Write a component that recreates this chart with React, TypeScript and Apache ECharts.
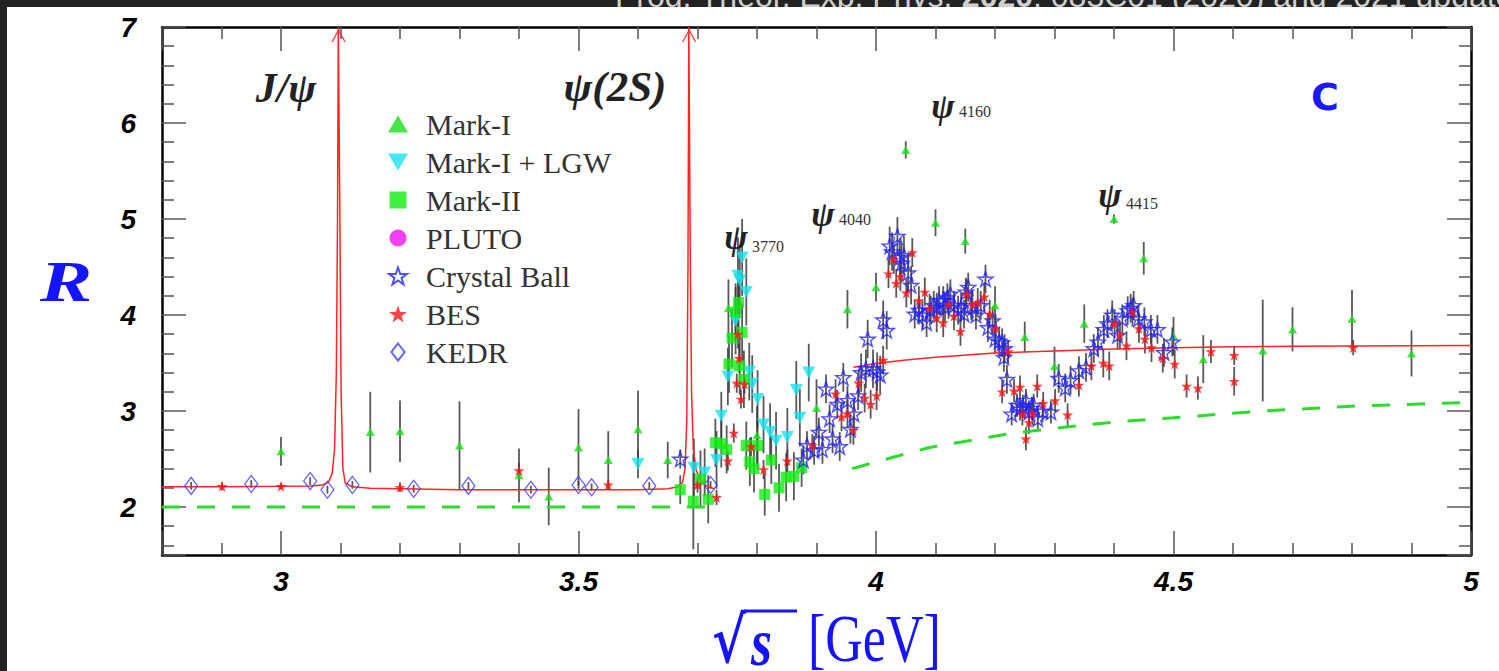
import { useEffect, useRef } from "react";
import * as echarts from "echarts";

// [sqrt(s) GeV, R, error]
const markI: number[][] = [
  [3.0, 2.58, 0.15], [3.15, 2.78, 0.42], [3.2, 2.79, 0.32], [3.3, 2.64, 0.46], [3.4, 2.33, 0.28],
  [3.45, 2.11, 0.3], [3.5, 2.62, 0.4], [3.55, 2.49, 0.3], [3.6, 2.81, 0.4], [3.65, 2.49, 0.19],
  [3.752, 4.07, 0.3], [3.8, 2.75, 0.3], [3.9, 3.03, 0.3], [3.952, 4.06, 0.2], [4.0, 4.29, 0.15],
  [4.05, 5.72, 0.09], [4.1, 4.96, 0.14], [4.15, 4.77, 0.13], [4.2, 4.1, 0.2], [4.25, 3.77, 0.16],
  [4.3, 3.47, 0.2], [4.35, 3.91, 0.2], [4.4, 5.0, 0.05], [4.45, 4.59, 0.17], [4.5, 3.78, 0.2],
  [4.55, 3.54, 0.25], [4.65, 3.63, 0.53], [4.7, 3.85, 0.23], [4.8, 3.96, 0.3], [4.9, 3.6, 0.24],
];
const markILGW: number[][] = [
  [3.6, 2.45, 0.15], [3.694, 2.41, 0.3], [3.712, 2.36, 0.25], [3.732, 2.49, 0.3], [3.74, 2.95, 0.25],
  [3.751, 3.36, 0.3], [3.764, 3.94, 0.35], [3.768, 4.41, 0.4], [3.771, 4.36, 0.35], [3.775, 4.6, 0.4],
  [3.782, 4.24, 0.35], [3.787, 3.41, 0.3], [3.792, 3.28, 0.3], [3.801, 3.125, 0.3], [3.811, 2.86, 0.3],
  [3.822, 2.78, 0.3], [3.832, 2.69, 0.3], [3.851, 2.73, 0.3], [3.866, 3.22, 0.3], [3.872, 2.93, 0.3],
  [3.887, 3.4, 0.3],
];
const markII: number[][] = [
  [3.671, 2.18, 0.15], [3.693, 2.06, 0.5], [3.705, 2.29, 0.3], [3.718, 2.08, 0.25], [3.73, 2.67, 0.25],
  [3.74, 2.66, 0.25], [3.749, 2.6, 0.25], [3.753, 3.49, 0.3], [3.758, 3.76, 0.3], [3.764, 4.03, 0.3],
  [3.769, 4.13, 0.3], [3.771, 3.47, 0.3], [3.775, 3.82, 0.3], [3.778, 3.33, 0.3], [3.782, 2.64, 0.25],
  [3.788, 2.47, 0.25], [3.795, 2.4, 0.25], [3.801, 2.64, 0.25], [3.813, 2.13, 0.22], [3.824, 2.49, 0.25],
  [3.837, 2.2, 0.25], [3.849, 2.31, 0.25], [3.862, 2.32, 0.25], [3.875, 2.41, 0.2],
];
const pluto: number[][] = [];
const crystalBall: number[][] = [
  [3.671, 2.5, 0.1], [3.878, 2.49, 0.15], [3.884, 2.64, 0.15], [3.896, 2.59, 0.15], [3.904, 2.78, 0.15],
  [3.91, 2.6, 0.15], [3.916, 3.23, 0.15], [3.922, 2.92, 0.15], [3.927, 2.71, 0.15], [3.935, 3.07, 0.15],
  [3.939, 2.63, 0.15], [3.945, 3.35, 0.15], [3.952, 3.11, 0.15], [3.957, 2.81, 0.15], [3.963, 2.97, 0.15],
  [3.97, 3.16, 0.15], [3.975, 3.4, 0.2], [3.983, 3.44, 0.2], [3.986, 3.75, 0.2], [3.995, 3.44, 0.2],
  [4.002, 3.41, 0.2], [4.007, 3.375, 0.2], [4.012, 3.95, 0.2], [4.018, 3.84, 0.2], [4.023, 4.72, 0.2],
  [4.027, 4.66, 0.2], [4.036, 4.82, 0.2], [4.04, 4.6, 0.2], [4.043, 4.54, 0.2], [4.047, 4.62, 0.2],
  [4.054, 4.44, 0.2], [4.059, 4.31, 0.2], [4.065, 4.01, 0.15], [4.072, 4.05, 0.15], [4.078, 4.0, 0.15],
  [4.085, 3.92, 0.15], [4.092, 4.05, 0.15], [4.097, 4.1, 0.15], [4.102, 4.08, 0.15], [4.106, 4.15, 0.15],
  [4.113, 4.15, 0.15], [4.116, 4.08, 0.15], [4.12, 4.18, 0.15], [4.125, 4.22, 0.15], [4.131, 4.1, 0.15],
  [4.138, 4.05, 0.15], [4.143, 4.08, 0.15], [4.148, 4.01, 0.15], [4.151, 4.24, 0.15], [4.155, 4.29, 0.15],
  [4.16, 4.1, 0.15], [4.168, 4.0, 0.15], [4.176, 4.1, 0.15], [4.184, 4.375, 0.15], [4.188, 3.87, 0.15],
  [4.196, 3.94, 0.15], [4.2, 3.75, 0.15], [4.207, 3.73, 0.15], [4.212, 3.71, 0.15], [4.215, 3.56, 0.15],
  [4.216, 3.65, 0.15], [4.22, 3.33, 0.15], [4.228, 2.97, 0.12], [4.237, 3.06, 0.12], [4.242, 3.02, 0.12],
  [4.247, 3.05, 0.12], [4.252, 3.11, 0.12], [4.257, 2.99, 0.12], [4.262, 3.03, 0.12], [4.265, 3.06, 0.12],
  [4.272, 2.92, 0.12], [4.28, 3.0, 0.12], [4.294, 2.99, 0.12], [4.307, 3.34, 0.15], [4.318, 3.24, 0.15],
  [4.327, 3.32, 0.15], [4.341, 3.42, 0.15], [4.353, 3.455, 0.15], [4.366, 3.65, 0.15], [4.373, 3.72, 0.15],
  [4.383, 3.85, 0.15], [4.389, 3.91, 0.15], [4.397, 4.0, 0.15], [4.406, 3.79, 0.15], [4.414, 3.96, 0.15],
  [4.423, 4.045, 0.15], [4.428, 4.07, 0.15], [4.433, 4.1, 0.15], [4.441, 3.96, 0.15], [4.451, 3.93, 0.15],
  [4.462, 3.85, 0.15], [4.473, 3.85, 0.15], [4.484, 3.61, 0.15], [4.498, 3.72, 0.15],
];
const bes: number[][] = [
  [2.901, 2.215, 0.04], [3.0, 2.215, 0.03], [3.2, 2.205, 0.05], [3.4, 2.38, 0.08], [3.55, 2.23, 0.05],
  [3.7, 2.23, 0.08], [3.732, 2.1, 0.08], [3.751, 2.48, 0.1], [3.761, 2.77, 0.1], [3.766, 3.29, 0.1],
  [3.768, 3.8, 0.15], [3.77, 3.55, 0.15], [3.773, 3.125, 0.1], [3.779, 3.28, 0.1], [3.79, 2.63, 0.1],
  [3.811, 2.39, 0.1], [3.851, 2.48, 0.12], [3.893, 2.64, 0.12], [3.932, 3.18, 0.15], [3.942, 2.94, 0.15],
  [3.952, 2.97, 0.15], [3.962, 2.8, 0.15], [3.971, 3.29, 0.15], [3.981, 3.135, 0.15], [3.991, 3.07, 0.15],
  [4.001, 3.16, 0.15], [4.012, 3.53, 0.15], [4.021, 4.43, 0.15], [4.03, 4.58, 0.15], [4.034, 4.33, 0.15],
  [4.041, 4.4, 0.15], [4.051, 4.23, 0.15], [4.061, 4.65, 0.15], [4.072, 4.15, 0.15], [4.082, 4.24, 0.15],
  [4.09, 4.07, 0.15], [4.102, 3.97, 0.15], [4.113, 3.92, 0.15], [4.122, 4.11, 0.15], [4.131, 3.99, 0.15],
  [4.142, 3.83, 0.15], [4.152, 4.22, 0.15], [4.162, 4.11, 0.15], [4.171, 4.13, 0.15], [4.182, 4.19, 0.15],
  [4.191, 4.01, 0.15], [4.201, 3.86, 0.15], [4.212, 3.2, 0.12], [4.222, 3.62, 0.12], [4.232, 3.21, 0.12],
  [4.242, 3.25, 0.12], [4.246, 2.97, 0.12], [4.252, 2.71, 0.12], [4.257, 2.88, 0.12], [4.263, 2.97, 0.12],
  [4.271, 3.26, 0.12], [4.281, 3.08, 0.12], [4.301, 3.11, 0.12], [4.322, 2.96, 0.12], [4.341, 3.27, 0.12],
  [4.362, 3.47, 0.15], [4.382, 3.5, 0.15], [4.392, 3.47, 0.15], [4.401, 3.91, 0.15], [4.41, 3.79, 0.15],
  [4.421, 3.68, 0.15], [4.431, 4.03, 0.15], [4.442, 3.86, 0.15], [4.452, 3.75, 0.15], [4.463, 3.66, 0.15],
  [4.482, 3.55, 0.15], [4.502, 3.49, 0.15], [4.522, 3.26, 0.12], [4.541, 3.24, 0.12], [4.563, 3.62, 0.12],
  [4.602, 3.31, 0.15], [4.602, 3.58, 0.1], [4.802, 3.66, 0.08],
];
const kedr: number[][] = [
  [2.849, 2.22, 0.04], [2.95, 2.24, 0.04], [3.049, 2.27, 0.04], [3.078, 2.18, 0.04], [3.12, 2.23, 0.04],
  [3.223, 2.19, 0.04], [3.315, 2.22, 0.04], [3.42, 2.18, 0.04], [3.5, 2.23, 0.04], [3.522, 2.205, 0.04],
  [3.619, 2.22, 0.04], [3.722, 2.23, 0.04],
];
// theory curves
const rCurveLow: number[][] = [
  [2.8, 2.21], [2.9, 2.21], [3.0, 2.215], [3.05, 2.22], [3.07, 2.23], [3.08, 2.26], [3.086, 2.35],
  [3.09, 2.6], [3.093, 3.4], [3.095, 5.0], [3.0963, 7.0], [3.0973, 7.0], [3.099, 5.0], [3.101, 3.2],
  [3.104, 2.4], [3.108, 2.25], [3.12, 2.21], [3.15, 2.195], [3.2, 2.19], [3.3, 2.18], [3.4, 2.18],
  [3.5, 2.18], [3.6, 2.18], [3.65, 2.19], [3.668, 2.21], [3.675, 2.26], [3.679, 2.4], [3.682, 2.9],
  [3.684, 4.5], [3.6854, 7.0], [3.6864, 7.0], [3.688, 4.5], [3.69, 3.2], [3.693, 2.6], [3.698, 2.38],
  [3.705, 2.28], [3.715, 2.22], [3.728, 2.19],
];
const rCurveHigh: number[][] = [
  [3.962, 3.455], [3.98, 3.475], [4.0, 3.495], [4.05, 3.53], [4.1, 3.56], [4.2, 3.605], [4.3, 3.625],
  [4.4, 3.645], [4.5, 3.66], [4.6, 3.668], [4.7, 3.674], [4.8, 3.678], [5.0, 3.682],
];
const pqcdLow: number[][] = [[2.8, 2.0], [3.72, 2.0]];
const pqcdHigh: number[][] = [
  [3.96, 2.4], [4.0, 2.47], [4.09, 2.62], [4.22, 2.76], [4.3, 2.82], [4.4, 2.885], [4.5, 2.93],
  [4.65, 3.0], [4.8, 3.05], [5.0, 3.09],
];
const resonancePeaks: number[][] = [[3.0968, 7.0], [3.6859, 7.0]];
const resonanceLabels = ["J/ψ", "ψ(2S)"];
const charmLabels = ["3770", "4040", "4160", "4415"];

const STAR = "path://M50,2 L61.8,36.2 L97.6,36.2 L68.6,57.4 L79.4,91.8 L50,70.6 L20.6,91.8 L31.4,57.4 L2.4,36.2 L38.2,36.2 Z";
const UP_TRI = "path://M0,17 L10,0 L20,17 Z";
const DOWN_TRI = "path://M0,0 L20,0 L10,17 Z";
const SQUARE = "path://M0,0 L10,0 L10,10 L0,10 Z";
const DIAMOND = "path://M7,0 L14,9 L7,18 L0,9 Z";
const ARROW = "path://M0,12 L6,0 L12,12";

const xy = (d: number[][]) => d.map((p) => [p[0], p[1]]);

export default function App() {
  const ref = useRef<HTMLDivElement>(null);
  useEffect(() => {
    const chart = echarts.init(ref.current!, null, { renderer: "svg" });
    const errs = [markI, markILGW, markII, pluto, crystalBall, bes, kedr]
      .flat()
      .map((p) => [p[0], p[1] - p[2], p[1] + p[2]]);

    const tickLabel = {
      fontFamily: "Liberation Sans",
      fontWeight: "bold" as const,
      fontStyle: "italic" as const,
      fontSize: 28,
      color: "#000",
    };
    const axisCommon = (pos: string, showLabel: boolean, isX: boolean) => ({
      type: "value" as const,
      position: pos,
      min: isX ? 2.8 : 1.5,
      max: isX ? 5.0 : 7,
      splitNumber: 5,
      axisLine: { show: true, lineStyle: { color: "#000", width: 2.5 } },
      axisTick: { show: true, inside: true, length: 24, lineStyle: { color: "#555", width: 1.5 } },
      minorTick: { show: true, splitNumber: 5, length: 12, lineStyle: { color: "#555", width: 1.5 } },
      splitLine: { show: false },
      axisLabel: { show: showLabel, showMinLabel: false, margin: isX ? 12 : 26, ...tickLabel },
    });

    const annText = (text: string, x: number, y: number, size: number, extra: any = {}) => ({
      type: "text",
      x,
      y,
      z: 50,
      style: {
        text,
        font: `italic bold ${size}px "Liberation Serif"`,
        fill: "#222",
        align: "center",
        verticalAlign: "middle",
        ...extra,
      },
    });

    const psiPos = [
      [736, 237, 768, 246],
      [823, 214, 855, 219],
      [943, 106, 975, 111],
      [1110, 195, 1142, 203],
    ];
    const blue = "#1414ff";

    chart.setOption({
      animation: false,
      backgroundColor: "#fff",
      grid: { left: 162, top: 27, right: 28, bottom: 116, show: false },
      xAxis: [axisCommon("bottom", true, true), axisCommon("top", false, true)],
      yAxis: [axisCommon("left", true, false), axisCommon("right", false, false)],
      legend: {
        orient: "vertical",
        left: 383,
        top: 104,
        itemWidth: 46,
        itemHeight: 17,
        itemGap: 8,
        selectedMode: false,
        textStyle: { fontFamily: "Liberation Serif", fontSize: 30, color: "#333" },
        data: [
          { name: "Mark-I", icon: UP_TRI },
          { name: "Mark-I + LGW", icon: DOWN_TRI },
          { name: "Mark-II", icon: SQUARE },
          { name: "PLUTO", icon: "circle" },
          { name: "Crystal Ball", icon: STAR },
          { name: "BES", icon: STAR },
          { name: "KEDR", icon: DIAMOND },
        ],
      },
      series: [
        {
          type: "custom",
          name: "errors",
          data: errs,
          encode: { x: 0, y: [1, 2] },
          clip: true,
          z: 1,
          renderItem: (params: any, api: any) => {
            const a = api.coord([api.value(0), api.value(1)]);
            const b = api.coord([api.value(0), api.value(2)]);
            return {
              type: "line",
              shape: { x1: a[0], y1: a[1], x2: b[0], y2: b[1] },
              style: { stroke: "#3c3c3c", lineWidth: 1.8, opacity: 0.85 },
            };
          },
        },
        ...[pqcdLow, pqcdHigh].map((d) => ({
          type: "line",
          data: d,
          symbol: "none",
          z: 2,
          lineStyle: { color: "#2bdc2b", width: 3, type: [18, 17] },
        })),
        ...[rCurveLow, rCurveHigh].map((d) => ({
          type: "line",
          data: d,
          symbol: "none",
          z: 3,
          lineStyle: { color: "#ff2424", width: 1.5 },
        })),
        {
          type: "scatter",
          data: resonancePeaks,
          symbol: ARROW,
          symbolSize: [13, 12],
          symbolOffset: [0, 9],
          clip: false,
          z: 3,
          itemStyle: { color: "rgba(0,0,0,0)", borderColor: "#ff2424", borderWidth: 1.5 },
        },
        {
          type: "scatter", name: "KEDR", data: xy(kedr), symbol: DIAMOND, symbolSize: [13, 17], z: 4,
          itemStyle: { color: "rgba(0,0,0,0)", borderColor: "#3b3bff", borderWidth: 1.3 },
        },
        {
          type: "scatter", name: "Mark-I", data: xy(markI), symbol: UP_TRI, symbolSize: [9, 8], z: 5,
          itemStyle: { color: "#16e016" },
        },
        {
          type: "scatter", name: "Mark-I + LGW", data: xy(markILGW), symbol: DOWN_TRI, symbolSize: [13, 12], z: 5,
          itemStyle: { color: "#16e4f0" },
        },
        {
          type: "scatter", name: "Mark-II", data: xy(markII), symbol: SQUARE, symbolSize: 11, z: 5,
          itemStyle: { color: "#11ee11" },
        },
        {
          type: "scatter", name: "PLUTO", data: xy(pluto), symbol: "circle", symbolSize: 12, z: 5,
          itemStyle: { color: "#ee11ee" },
        },
        {
          type: "scatter", name: "Crystal Ball", data: xy(crystalBall), symbol: STAR, symbolSize: 15, z: 6,
          itemStyle: { color: "rgba(0,0,0,0)", borderColor: "#2222ff", borderWidth: 1.4 },
        },
        {
          type: "scatter", name: "BES", data: xy(bes), symbol: STAR, symbolSize: 11, z: 7,
          itemStyle: { color: "#ff1414" },
        },
      ],
      graphic: [
        { type: "rect", z: 100, shape: { x: 0, y: 0, width: 1499, height: 7 }, style: { fill: "#232323" } },
        { type: "rect", z: 100, shape: { x: 0, y: 0, width: 7, height: 671 }, style: { fill: "#232323" } },
        {
          type: "text", z: 101, x: 615, y: 12,
          style: {
            text: "{a|Prog. Theor. Exp. Phys. }{b|2020}{a|, 083C01 (2020) and 2021 update}",
            verticalAlign: "bottom",
            rich: {
              a: { font: '32px "Liberation Sans"', fill: "#cfcfcf" },
              b: { font: 'bold 32px "Liberation Sans"', fill: "#cfcfcf" },
            },
          },
        },
        { type: "rect", z: 102, shape: { x: 590, y: 7, width: 909, height: 18 }, style: { fill: "#fff" } },
        annText(resonanceLabels[0], 286, 88, 42),
        annText(resonanceLabels[1], 615, 86, 43),
        ...psiPos.flatMap((p, i) => [
          annText("ψ", p[0], p[1], 35),
          {
            type: "text", x: p[2], y: p[3], z: 50,
            style: { text: charmLabels[i], font: '16px "Liberation Serif"', fill: "#333", align: "center", verticalAlign: "middle" },
          },
        ]),
        {
          type: "text", x: 1325, y: 97, z: 50,
          style: { text: "C", font: 'bold 38px "DejaVu Sans"', fill: "#1a1aff", align: "center", verticalAlign: "middle" },
        },
        {
          type: "text", x: 66, y: 282, z: 50, scaleX: 1.35,
          style: { text: "R", font: 'italic bold 58px "Liberation Serif"', fill: blue, align: "center", verticalAlign: "middle" },
        },
        {
          type: "text", x: 712, y: 640, z: 50, scaleY: 1.22,
          style: { text: "√", font: 'bold 52px "DejaVu Serif"', fill: blue, align: "left", verticalAlign: "middle" },
        },
        { type: "line", z: 50, shape: { x1: 744, y1: 611, x2: 797, y2: 611 }, style: { stroke: blue, lineWidth: 3 } },
        {
          type: "text", x: 751, y: 642, z: 50, scaleY: 1.25,
          style: { text: "s", font: 'italic bold 54px "Liberation Serif"', fill: blue, align: "left", verticalAlign: "middle" },
        },
        {
          type: "text", x: 808, y: 638, z: 50, scaleY: 1.3,
          style: { text: "[GeV]", font: '52px "Liberation Serif"', fill: blue, align: "left", verticalAlign: "middle" },
        },
      ],
    });
    return () => chart.dispose();
  }, []);
  return (
    <div
      ref={ref}
      style={{ position: "fixed", left: 0, top: 0, width: 1499, height: 671, background: "#fff" }}
    />
  );
}
